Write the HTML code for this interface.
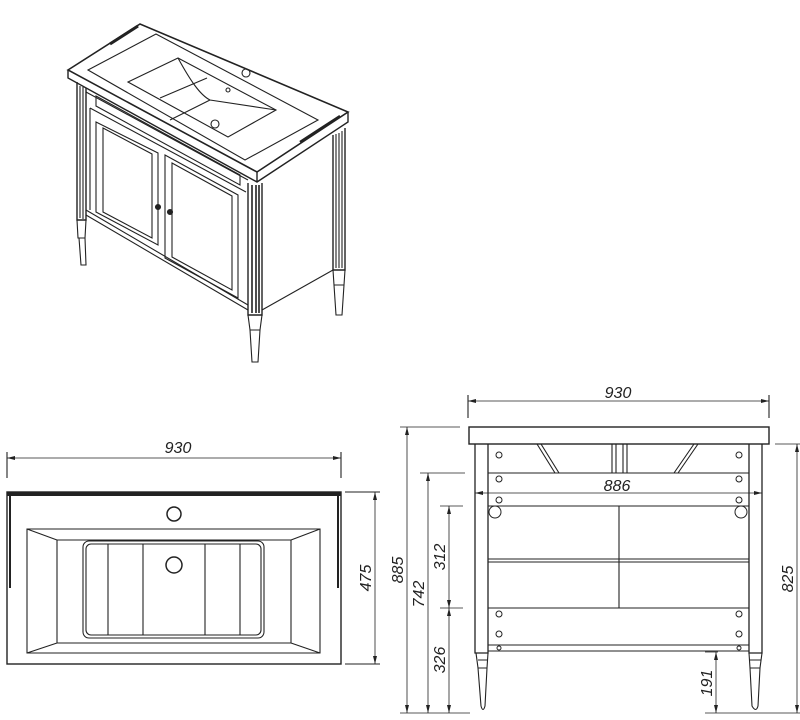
<!DOCTYPE html>
<html><head><meta charset="utf-8"><style>
html,body{margin:0;padding:0;background:#fff}
svg{display:block}
text{font-family:"Liberation Sans",sans-serif;font-style:italic;font-size:16px;fill:#222}
</style></head><body>
<svg width="800" height="720" viewBox="0 0 800 720" xmlns="http://www.w3.org/2000/svg">
<defs>
<marker id="a" markerWidth="10" markerHeight="6" refX="10" refY="3" orient="auto-start-reverse"><path d="M0,0.5 L10,3 L0,5.5z" fill="#222"/></marker>
</defs>
<g fill="none" stroke="#222" stroke-width="1.1">
<!-- ISOMETRIC -->
<path d="M68,70 L140,24 L348,112 L257,172 Z" stroke-width="1.6"/>
<path d="M68,70 L68,78 L257,182 L348,122 L348,112 M257,172 L257,182" stroke-width="1.4"/>
<path d="M110,44 L138,26" stroke-width="3"/>
<path d="M300,142 L340,116" stroke-width="2.5"/>
<path d="M88,70 L156,34 L318,120 L245,160 Z"/>
<path d="M128,82 L178,58 L276,110 L228,137 Z"/>
<path d="M178,58 C190,80 200,95 210,100 L276,110 M210,100 L170,120 M160,98 L207,78"/>
<circle cx="246" cy="73" r="4"/><circle cx="215" cy="124" r="4"/><circle cx="228" cy="90" r="2"/>
<!-- legs -->
<path d="M77,82 L77,220 L86,220 L86,88" stroke-width="1.4"/>
<path d="M80,86 L80,218 M83,87 L83,219"/>
<path d="M77,220 L78,238 L85,238 L86,220 M79,238 L81,265 L86,265 L85,238"/>
<path d="M248,183 L248,315 L262,315 L262,183" stroke-width="1.4"/>
<path d="M252,185 L252,313 M256,185 L256,313 M259,185 L259,313" stroke-width="1.6"/>
<path d="M248,315 L250,330 L260,330 L262,315 M250,330 L252,362 L258,362 L260,330"/>
<path d="M333,135 L333,270 L345,270 L345,128" stroke-width="1.4"/>
<path d="M336,134 L336,268 M339,133 L339,268 M342,131 L342,268"/>
<path d="M333,270 L334,285 L344,285 L345,270 M334,285 L336,315 L342,315 L344,285"/>
<path d="M262,310 L333,270"/>
<!-- front frame -->
<path d="M86,92 L248,180 M86,210 L248,305 M86,215 L248,310"/>
<path d="M96,96 L240,175 L240,185 L96,106 Z"/>
<path d="M90,108 L246,192 M90,108 L90,210"/>
<path d="M96,122 L158,153 L158,245 L96,212 Z"/>
<path d="M103,128 L152,154 L152,238 L103,212 Z"/>
<path d="M165,155 L238,195 L238,298 L165,258 Z"/>
<path d="M172,163 L232,196 L232,290 L172,257 Z"/>
<circle cx="158" cy="207" r="2.5" fill="#222"/><circle cx="170" cy="212" r="2.5" fill="#222"/>

<!-- TOP VIEW -->
<path d="M7,452 L7,478 M341,452 L341,478"/>
<line x1="7" y1="458" x2="341" y2="458" marker-start="url(#a)" marker-end="url(#a)" stroke-width="0.8"/>
<rect x="7" y="492" width="334" height="172" stroke-width="1.4"/>
<path d="M7,494 L341,494" stroke-width="4"/>
<path d="M10,496 L10,588 M338,496 L338,588" stroke-width="2"/>
<path d="M27,529 L320,529 L320,653 L27,653 Z M57,540 L291,540 L291,643 L57,643 Z M27,529 L57,540 M320,529 L291,540 M27,653 L57,643 M320,653 L291,643"/>
<rect x="83" y="541" width="181" height="97" rx="6"/>
<rect x="86" y="544" width="175" height="91" rx="5"/>
<path d="M108,544 L108,635 M143,544 L143,635 M205,544 L205,635 M240,544 L240,635"/>
<circle cx="174" cy="514" r="7" stroke-width="1.5"/>
<circle cx="174" cy="565" r="8" stroke-width="1.5"/>
<path d="M345,492 L380,492 M345,664 L380,664"/>
<line x1="375" y1="492" x2="375" y2="664" marker-start="url(#a)" marker-end="url(#a)" stroke-width="0.8"/>

<!-- FRONT VIEW -->
<path d="M468,395 L468,418 M769,395 L769,418"/>
<line x1="468" y1="401" x2="769" y2="401" marker-start="url(#a)" marker-end="url(#a)" stroke-width="0.8"/>
<rect x="469" y="427" width="300" height="17" stroke-width="1.4"/>
<path d="M475,444 L475,653 L488,653 L488,444 M749,444 L749,653 L762,653 L762,444" stroke-width="1.3"/>
<path d="M476,653 L478,668 L487,668 L488,653 M478,668 L481,706 Q483,713 485,706 L487,668 M478,660 L487,660"/>
<path d="M749,653 L750,668 L760,668 L762,653 M750,668 L752,706 Q756,713 758,706 L760,668 M750,660 L761,660"/>
<path d="M488,473 L749,473 M488,506 L749,506 M488,559 L749,559 M488,562 L749,562 M488,608 L749,608 M488,645 L749,645 M488,651 L749,651 M619,506 L619,608"/>
<path d="M537,444 L555,473 M541,444 L559,473 M698,444 L678,473 M694,444 L674,473 M612,444 L612,473 M616,444 L616,473 M623,444 L623,473 M627,444 L627,473"/>
<line x1="475" y1="493" x2="762" y2="493" marker-start="url(#a)" marker-end="url(#a)" stroke-width="0.8"/>
<g stroke-width="1">
<circle cx="499" cy="455" r="3"/><circle cx="739" cy="455" r="3"/>
<circle cx="499" cy="479" r="3"/><circle cx="739" cy="479" r="3"/>
<circle cx="499" cy="500" r="3"/><circle cx="739" cy="500" r="3"/>
<circle cx="499" cy="614" r="3"/><circle cx="739" cy="614" r="3"/>
<circle cx="499" cy="634" r="3"/><circle cx="739" cy="634" r="3"/>
<circle cx="499" cy="648" r="2"/><circle cx="739" cy="648" r="2"/>
<circle cx="495" cy="512" r="6"/><circle cx="741" cy="512" r="6"/>
</g>
<g stroke-width="0.8">
<path d="M400,427 L460,427 M420,473 L465,473 M440,506 L463,506 M440,608 L463,608 M400,713 L470,713 M705,713 L800,713 M775,444 L800,444 M705,652 L718,652"/>
<line x1="407" y1="427" x2="407" y2="713" marker-start="url(#a)" marker-end="url(#a)"/>
<line x1="428" y1="473" x2="428" y2="713" marker-start="url(#a)" marker-end="url(#a)"/>
<line x1="449" y1="506" x2="449" y2="608" marker-start="url(#a)" marker-end="url(#a)"/>
<line x1="449" y1="608" x2="449" y2="713" marker-start="url(#a)" marker-end="url(#a)"/>
<line x1="716" y1="652" x2="716" y2="713" marker-start="url(#a)" marker-end="url(#a)"/>
<line x1="797" y1="444" x2="797" y2="713" marker-start="url(#a)" marker-end="url(#a)"/>
</g>
</g>
<text x="178" y="453" text-anchor="middle">930</text>
<text x="618" y="398" text-anchor="middle">930</text>
<text x="617" y="491" text-anchor="middle">886</text>
<text transform="translate(371,578) rotate(-90)" text-anchor="middle">475</text>
<text transform="translate(403,570) rotate(-90)" text-anchor="middle">885</text>
<text transform="translate(424,594) rotate(-90)" text-anchor="middle">742</text>
<text transform="translate(445,557) rotate(-90)" text-anchor="middle">312</text>
<text transform="translate(445,660) rotate(-90)" text-anchor="middle">326</text>
<text transform="translate(712,683) rotate(-90)" text-anchor="middle">191</text>
<text transform="translate(793,579) rotate(-90)" text-anchor="middle">825</text>
</svg>
</body></html>
